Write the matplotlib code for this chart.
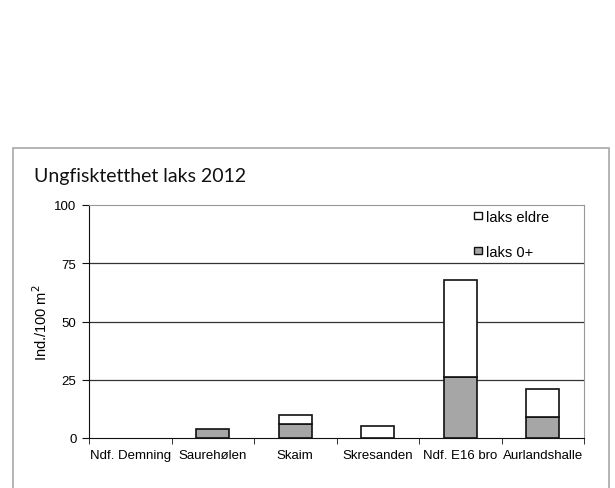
import matplotlib.pyplot as plt
from matplotlib.patches import Rectangle, Patch
import numpy as np

# data
stations = ['Ndf. Demning', 'Saurehølen', 'Skaim', 'Skresanden', 'Ndf. E16 bro', 'Aurlandshalle']
laks_0 = [0, 4, 6, 0, 26, 9]
laks_eldre = [0, 0, 4, 5, 42, 12]
yticks = [0, 25, 50, 75, 100]

plt.rcParams['font.family'] = 'Liberation Sans'

fig = plt.figure(figsize=(6.15, 4.89), dpi=100)

# outer chart frame (grey box that runs off the bottom)
fig.patches.append(Rectangle((13 / 615, -0.05), (609 - 13) / 615, 1 - 149 / 489 + 0.05,
                             transform=fig.transFigure, fill=False,
                             edgecolor='#a8a8a8', linewidth=1.2))

fig.text(34 / 615, 1 - 182 / 489, 'Ungfisktetthet laks 2012', family='Lato',
         fontsize=14, color='#111111')

ax = fig.add_axes([89 / 615, 1 - 439 / 489, (584 - 89) / 615, (439 - 206) / 489])
x = np.arange(len(stations))
b0 = ax.bar(x, laks_0, width=0.4, color='#a6a6a6', edgecolor='#111111', linewidth=1.2,
            zorder=3)
b1 = ax.bar(x, laks_eldre, width=0.4, bottom=laks_0, color='white', edgecolor='#111111',
            linewidth=1.2, zorder=3)
# empty segments are not drawn in the original
for p in list(b0) + list(b1):
    if p.get_height() == 0:
        p.set_visible(False)

ax.set_xlim(-0.5, len(stations) - 0.5)
ax.set_ylim(0, 100)
ax.set_yticks(yticks)
ax.set_xticks(x)
ax.set_xticklabels(stations, fontsize=9.5)
ax.set_xticks(np.arange(len(stations) + 1) - 0.5, minor=True)
ax.tick_params(axis='x', which='major', length=0, pad=8)
ax.tick_params(axis='x', which='minor', length=4, direction='out', color='#111111')
ax.tick_params(axis='y', length=5, direction='out', labelsize=9.5, pad=4, color='#111111')
for v in yticks[1:-1]:
    ax.axhline(v, color='#333333', linewidth=0.9, zorder=1)

ax.spines['left'].set_color('#111111')
ax.spines['bottom'].set_color('#111111')
ax.spines['top'].set_color('#999999')
ax.spines['right'].set_color('#999999')

ax.set_ylabel('Ind./100 m$^2$', fontsize=10.5, labelpad=3)

handles = [Patch(facecolor='white', edgecolor='#111111', linewidth=1.0, label='laks eldre'),
           Patch(facecolor='#a6a6a6', edgecolor='#111111', linewidth=1.0, label='laks 0+')]
ax.legend(handles=handles, loc='upper left', bbox_to_anchor=((474 - 89) / 495, 0.98),
          frameon=False, fontsize=10.5, handlelength=0.55, handleheight=0.35,
          handletextpad=0.3, labelspacing=1.45, borderpad=0, borderaxespad=0)

fig.savefig('out.png', dpi=100)
